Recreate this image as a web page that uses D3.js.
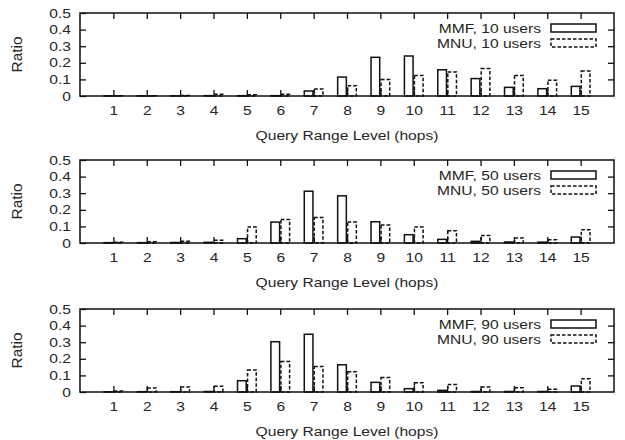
<!DOCTYPE html>
<html>
<head>
<meta charset="utf-8">
<script src="https://d3js.org/d3.v7.min.js"></script>
<style>
  body { margin: 0; background: #fff; }
  text { font-family: "Liberation Sans", Arial, sans-serif; fill: #262626; }
</style>
</head>
<body>
<div id="chart"></div>
<script>
// query range levels (x categories) and y tick values
const levels = [1, 2, 3, 4, 5, 6, 7, 8, 9, 10, 11, 12, 13, 14, 15];
const yTicks = [0, 0.1, 0.2, 0.3, 0.4, 0.5];
const userCounts = [10, 50, 90];

// ratio per level
const mmf10 = [0.001, 0.001, 0.001, 0.002, 0.002, 0.002, 0.03, 0.114, 0.233, 0.241, 0.158, 0.105, 0.052, 0.044, 0.058];
const mnu10 = [0.002, 0.002, 0.003, 0.01, 0.008, 0.01, 0.042, 0.062, 0.1, 0.124, 0.145, 0.165, 0.124, 0.095, 0.15];
const mmf50 = [0.002, 0.002, 0.003, 0.004, 0.026, 0.126, 0.312, 0.284, 0.128, 0.05, 0.022, 0.01, 0.006, 0.005, 0.036];
const mnu50 = [0.005, 0.008, 0.01, 0.016, 0.096, 0.142, 0.154, 0.126, 0.108, 0.096, 0.074, 0.045, 0.03, 0.02, 0.08];
const mmf90 = [0.001, 0.002, 0.002, 0.003, 0.068, 0.303, 0.348, 0.164, 0.058, 0.02, 0.01, 0.003, 0.003, 0.003, 0.036];
const mnu90 = [0.006, 0.024, 0.03, 0.035, 0.133, 0.183, 0.154, 0.122, 0.087, 0.056, 0.045, 0.03, 0.025, 0.016, 0.08];

const panels = [
  { users: userCounts[0], mmf: mmf10, mnu: mnu10, top: 13, bottom: 96 },
  { users: userCounts[1], mmf: mmf50, mnu: mnu50, top: 160, bottom: 243 },
  { users: userCounts[2], mmf: mmf90, mnu: mnu90, top: 309, bottom: 392 }
];

const W = 625, H = 440;
const left = 80, right = 614;
const tick = 6;
const sx = 1.2;   // the source picture is a bit wider than tall
const ink = "#111";
const dash = "3.5,2";

const svg = d3.select("#chart").append("svg")
  .attr("width", W)
  .attr("height", H);

svg.append("rect").attr("width", W).attr("height", H).attr("fill", "#fff");

const x = d3.scaleLinear().domain([0, 16]).range([left, right]);

panels.forEach(p => {
  const y = d3.scaleLinear().domain([0, 0.5]).range([p.bottom, p.top]);
  const g = svg.append("g");

  // bottom axis with labels
  const xAxis = g.append("g")
    .attr("transform", `translate(0,${p.bottom})`)
    .call(d3.axisBottom(x).tickValues(levels).tickSizeInner(-tick).tickSizeOuter(0).tickPadding(10));
  xAxis.selectAll("text").attr("font-size", 13).attr("transform", `scale(${sx},1)`);

  // top mirror ticks
  g.append("g")
    .attr("transform", `translate(0,${p.top})`)
    .call(d3.axisTop(x).tickValues(levels).tickSizeInner(-tick).tickSizeOuter(0).tickFormat(""));

  // left axis with labels
  const yAxis = g.append("g")
    .attr("transform", `translate(${left},0)`)
    .call(d3.axisLeft(y).tickValues(yTicks).tickSizeInner(-tick).tickSizeOuter(0).tickFormat(d => String(d)));
  yAxis.selectAll("text").attr("font-size", 13).attr("x", 0)
    .attr("transform", `translate(-9,0) scale(${sx},1)`);

  // right mirror ticks
  g.append("g")
    .attr("transform", `translate(${right},0)`)
    .call(d3.axisRight(y).tickValues(yTicks.slice(1, -1)).tickSizeInner(-tick).tickSizeOuter(0).tickFormat(""));

  g.selectAll(".domain").remove();
  g.selectAll(".tick line").attr("stroke", ink).attr("stroke-width", 1.3);

  // bars
  const barW = x(0.26) - x(0);
  g.append("g").selectAll("rect")
    .data(levels.map((l, i) => ({ level: l, value: p.mmf[i] })))
    .join("rect")
    .attr("x", d => x(d.level - 0.28))
    .attr("y", d => y(d.value))
    .attr("width", barW)
    .attr("height", d => y(0) - y(d.value))
    .attr("fill", "none")
    .attr("stroke", ink)
    .attr("stroke-width", 1.5);

  g.append("g").selectAll("rect")
    .data(levels.map((l, i) => ({ level: l, value: p.mnu[i] })))
    .join("rect")
    .attr("x", d => x(d.level + 0.02))
    .attr("y", d => y(d.value))
    .attr("width", barW)
    .attr("height", d => y(0) - y(d.value))
    .attr("fill", "none")
    .attr("stroke", ink)
    .attr("stroke-width", 1.5)
    .attr("stroke-dasharray", dash);

  // frame
  g.append("rect")
    .attr("x", left).attr("y", p.top)
    .attr("width", right - left).attr("height", p.bottom - p.top)
    .attr("fill", "none").attr("stroke", ink).attr("stroke-width", 1.5);

  // legend
  const keys = [
    { label: `MMF, ${p.users} users`, dashed: false },
    { label: `MNU, ${p.users} users`, dashed: true }
  ];
  keys.forEach((k, i) => {
    g.append("text")
      .attr("transform", `translate(541,${p.top + 20 + i * 15}) scale(${sx},1)`)
      .attr("text-anchor", "end")
      .attr("font-size", 13)
      .text(k.label);
    g.append("rect")
      .attr("x", 551).attr("y", p.top + 11 + i * 15)
      .attr("width", 45).attr("height", 8)
      .attr("fill", "none").attr("stroke", ink).attr("stroke-width", 1.5)
      .attr("stroke-dasharray", k.dashed ? dash : null);
  });

  // axis titles
  g.append("text")
    .attr("transform", `translate(${(left + right) / 2},${p.bottom + 44}) scale(${sx},1)`)
    .attr("text-anchor", "middle")
    .attr("font-size", 13)
    .text("Query Range Level (hops)");

  g.append("text")
    .attr("transform", `translate(22,${(p.top + p.bottom) / 2}) rotate(-90) scale(1.1,1)`)
    .attr("text-anchor", "middle")
    .attr("font-size", 14)
    .text("Ratio");
});
</script>
</body>
</html>
